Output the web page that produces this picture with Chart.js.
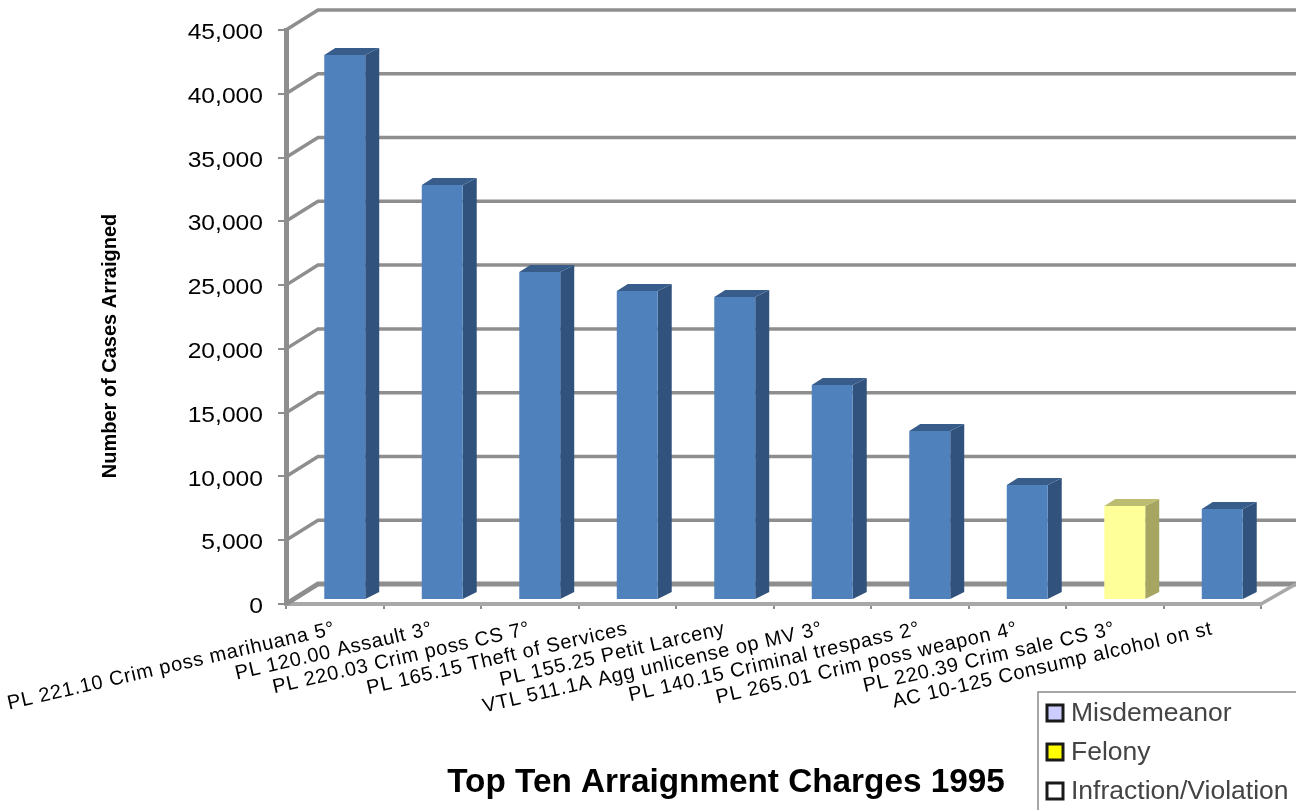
<!DOCTYPE html>
<html>
<head>
<meta charset="utf-8">
<title>Top Ten Arraignment Charges 1995</title>
<script src="https://cdn.jsdelivr.net/npm/chart.js@4"></script>
<style>
  html, body { margin: 0; padding: 0; background: #fff; overflow: hidden; }
  canvas { display: block; filter: blur(0.4px); }
</style>
</head>
<body>
<canvas id="arraignChart" width="1296" height="810"></canvas>
<script>
const categories = [
  'PL 221.10 Crim poss marihuana 5°',
  'PL 120.00 Assault 3°',
  'PL 220.03 Crim poss CS 7°',
  'PL 165.15 Theft of Services',
  'PL 155.25 Petit Larceny',
  'VTL 511.1A Agg unlicense op MV 3°',
  'PL 140.15 Criminal trespass 2°',
  'PL 265.01 Crim poss weapon 4°',
  'PL 220.39 Crim sale CS 3°',
  'AC 10-125 Consump alcohol on st'
]
const cases = [42725, 32530, 25710, 24220, 23750, 16860, 13250, 9020, 7370, 7130]
const severity = ['M', 'M', 'M', 'M', 'M', 'M', 'M', 'M', 'F', 'M']

const legendLabels = ['Misdemeanor', 'Felony', 'Infraction/Violation']
const legendColors = ['#ccccff', '#ffff00', '#ffffff']

const chartTitle = 'Top Ten Arraignment Charges 1995'
const axisTitle = 'Number of Cases Arraigned'

const FONT = '"Liberation Sans", Arial, sans-serif'
const GRAY = '#8e8e8e'

// colours per face
const faces = {
  M: { front: '#4f81bd', side: '#31527c', top: '#385d8a' },
  F: { front: '#ffff99', side: '#a6a662', top: '#bdbd72' }
}

// offset of the back wall and of the bar from the axes
const wall = { dx: 32, dy: -20 }
const bar = { dx: 10, dy: -4, depthX: 14, depthY: -7 }

const poly = (ctx, points, fill) => {
  ctx.fillStyle = fill
  ctx.beginPath()
  points.forEach((p, i) => i ? ctx.lineTo(p[0], p[1]) : ctx.moveTo(p[0], p[1]))
  ctx.closePath()
  ctx.fill()
}

// the source picture is stretched sideways, so the scale text is too
const wrapDraw = (scale, name, before) => {
  const draw = scale[name].bind(scale)
  scale[name] = area => {
    const c = scale.ctx
    c.save()
    before(c)
    draw(area)
    c.restore()
  }
}

// back wall, floor and slanted gridlines, behind the bars
const wallPlugin = {
  id: 'wall',
  afterLayout(chart) {
    const { x, y } = chart.scales
    wrapDraw(y, 'drawLabels', c => {
      c.translate(263, 3)
      c.scale(1.12, 1)
      c.translate(-263, 0)
    })
    wrapDraw(x, 'drawLabels', c => {
      c.letterSpacing = '0.75px'
    })
    wrapDraw(y, 'drawTitle', c => {
      c.translate(0, 29)
    })
  },
  beforeDatasetsDraw(chart) {
    const { ctx, scales: { x, y } } = chart
    const left = x.left
    const right = x.right
    ctx.save()
    ctx.strokeStyle = GRAY
    y.ticks.forEach(t => {
      const py = y.getPixelForValue(t.value)
      ctx.lineWidth = t.value === 0 ? 5 : 3.5
      ctx.beginPath()
      ctx.moveTo(left, py)
      ctx.lineTo(left + wall.dx, py + wall.dy)
      ctx.lineTo(1296, py + wall.dy)
      ctx.stroke()
    })
    // right end of the floor
    const py0 = y.getPixelForValue(0)
    ctx.lineWidth = 3.5
    ctx.strokeStyle = '#a8a8a8'
    ctx.beginPath()
    ctx.moveTo(right, py0)
    ctx.lineTo(right + wall.dx + 3, py0 + wall.dy)
    ctx.stroke()
    ctx.restore()
  },
  // the library draws the front faces, shifted off the axis
  beforeDatasetDraw(chart) {
    const { ctx } = chart
    const meta = chart.getDatasetMeta(0)
    ctx.save()
    ctx.translate(bar.dx, bar.dy)
    meta.data.forEach((el, i) => {
      const p = el.getProps(['x', 'y', 'base', 'width'], true)
      const l = p.x - p.width / 2
      const r = p.x + p.width / 2
      const f = faces[severity[i]]
      poly(ctx, [[r, p.y], [r + bar.depthX, p.y + bar.depthY], [r + bar.depthX, p.base + bar.depthY], [r, p.base]], f.side)
      poly(ctx, [[l, p.y], [l + bar.depthX - 3, p.y + bar.depthY], [r + bar.depthX, p.y + bar.depthY], [r, p.y]], f.top)
    })
  },
  afterDatasetDraw(chart) {
    chart.ctx.restore()
  }
}

// chart title and key, placed below the plot
const keyPlugin = {
  id: 'key',
  afterDraw(chart) {
    const { ctx } = chart
    ctx.save()
    ctx.fillStyle = '#000'
    ctx.font = `bold 33.3px ${FONT}`
    ctx.textAlign = 'center'
    ctx.textBaseline = 'middle'
    ctx.fillText(chartTitle, 726, 783)

    ctx.strokeStyle = '#8a8a8a'
    ctx.lineWidth = 1.5
    ctx.strokeRect(1038, 692, 270, 130)
    ctx.font = `26.5px ${FONT}`
    ctx.textAlign = 'left'
    legendLabels.forEach((label, i) => {
      const cy = 713 + i * 39
      ctx.fillStyle = legendColors[i]
      ctx.fillRect(1047, cy - 8, 16, 16)
      ctx.strokeStyle = '#1a1a1a'
      ctx.lineWidth = 3
      ctx.strokeRect(1047, cy - 8, 16, 16)
      ctx.fillStyle = '#444'
      ctx.fillText(label, 1071, cy + 1)
    })
    ctx.restore()
  }
}

const ctx = document.getElementById('arraignChart').getContext('2d')

new Chart(ctx, {
  type: 'bar',
  data: {
    labels: categories,
    datasets: [{
      data: cases,
      backgroundColor: severity.map(s => faces[s].front),
      borderWidth: 0,
      categoryPercentage: 1,
      barPercentage: 0.42,
      clip: false
    }]
  },
  options: {
    responsive: false,
    animation: false,
    layout: { autoPadding: false, padding: { left: 98, right: 35, top: 30, bottom: 0 } },
    plugins: {
      legend: { display: false },
      title: { display: false },
      tooltip: { enabled: false }
    },
    scales: {
      x: {
        afterFit: s => {
          s.height = 206
          // long rotated labels must not push the plot to the right
          s.paddingLeft = 0
          s.paddingRight = 0
        },
        grid: { offset: true, drawOnChartArea: false, color: GRAY, lineWidth: 2, tickLength: 5 },
        border: { color: '#a8a8a8', width: 4 },
        ticks: {
          autoSkip: false,
          minRotation: 13,
          maxRotation: 13,
          padding: 8,
          color: '#000',
          font: { family: FONT, size: 20 }
        }
      },
      y: {
        min: 0,
        max: 45000,
        afterFit: s => { s.width = 188 },
        grid: { drawOnChartArea: false, color: GRAY, lineWidth: 2, tickLength: 8 },
        border: { color: GRAY, width: 5 },
        title: {
          display: true,
          text: axisTitle,
          color: '#000',
          padding: 0,
          font: { family: FONT, size: 20, weight: 'bold' }
        },
        ticks: {
          stepSize: 5000,
          padding: 15,
          color: '#000',
          font: { family: FONT, size: 22 },
          callback: v => v.toLocaleString('en-US')
        }
      }
    }
  },
  plugins: [wallPlugin, keyPlugin]
})
</script>
</body>
</html>
